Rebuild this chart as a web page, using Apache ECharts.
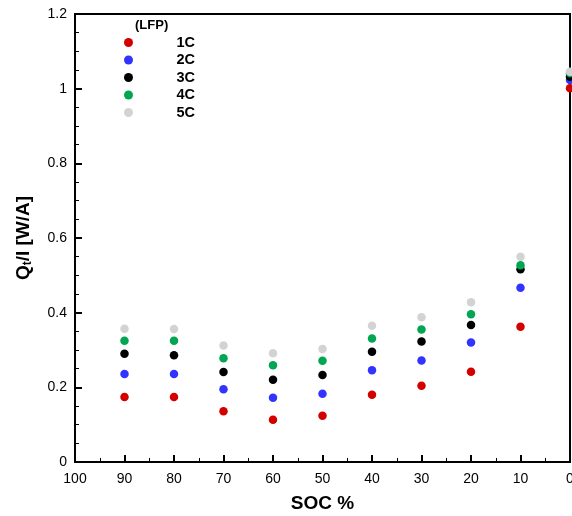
<!DOCTYPE html>
<html><head><meta charset="utf-8">
<script src="https://cdn.jsdelivr.net/npm/echarts@6/dist/echarts.min.js"></script>
<style>html,body{margin:0;padding:0;background:#fff}#c{width:572px;height:516px}</style>
</head><body><div id="c"></div>
<script>
const soc = [90, 80, 70, 60, 50, 40, 30, 20, 10, 0];
const s1C = [0.174, 0.174, 0.136, 0.113, 0.124, 0.180, 0.204, 0.242, 0.362, 1.001];
const s2C = [0.236, 0.236, 0.195, 0.172, 0.183, 0.246, 0.272, 0.320, 0.467, 1.023];
const s3C = [0.290, 0.286, 0.241, 0.220, 0.233, 0.295, 0.323, 0.367, 0.516, 1.032];
const s4C = [0.325, 0.325, 0.278, 0.259, 0.271, 0.331, 0.355, 0.396, 0.527, 1.041];
const s5C = [0.357, 0.356, 0.312, 0.291, 0.303, 0.365, 0.388, 0.428, 0.550, 1.045];
const names = ['1C', '2C', '3C', '4C', '5C'];
const colors = ['#d40000', '#3333ff', '#000000', '#00a651', '#d3d3d3'];
const allData = [s1C, s2C, s3C, s4C, s5C];

const font = 'Liberation Sans, Arial, Helvetica, sans-serif';
const chart = echarts.init(document.getElementById('c'));
chart.setOption({
  animation: false,
  textStyle: { fontFamily: font },
  grid: { left: 75, right: 2, top: 14, bottom: 54, show: true, borderColor: '#000', borderWidth: 2, containLabel: false, outerBoundsMode: 'none' },
  legend: {
    orient: 'vertical', left: 119, top: 30, itemWidth: 86, itemHeight: 9, itemGap: 2.5,
    icon: 'circle', data: names,
    textStyle: { fontFamily: font, fontWeight: 'bold', fontSize: 14.5, color: '#000' }
  },
  graphic: [{ type: 'text', left: 135, top: 19, style: { text: '(LFP)', font: 'bold 13px ' + font, fill: '#000' } }],
  xAxis: {
    type: 'value', inverse: true, min: 0, max: 100, interval: 10,
    name: 'SOC %', nameLocation: 'middle', nameGap: 32,
    nameTextStyle: { fontFamily: font, fontWeight: 'bold', fontSize: 19, color: '#000' },
    axisLine: { show: true, onZero: false, lineStyle: { color: '#000', width: 2 } },
    axisTick: { show: true, inside: true, length: 7, lineStyle: { color: '#000', width: 2 } },
    minorTick: { show: true, splitNumber: 2, length: 4, lineStyle: { color: '#000', width: 1 } },
    axisLabel: { fontFamily: font, fontSize: 14, color: '#000', margin: 10 },
    splitLine: { show: false }
  },
  yAxis: {
    type: 'value', min: 0, max: 1.2, interval: 0.2, position: 'left',
    name: '{b|Q}{s|t}{b|/I [W/A]}', nameLocation: 'middle', nameGap: 41,
    nameTextStyle: {
      rich: {
        b: { fontFamily: font, fontWeight: 'bold', fontSize: 19, color: '#000' },
        s: { fontFamily: font, fontWeight: 'bold', fontSize: 12, color: '#000', padding: [8, 0, 0, 0] }
      }
    },
    axisLine: { show: true, onZero: false, lineStyle: { color: '#000', width: 2 } },
    axisTick: { show: true, inside: true, length: 7, lineStyle: { color: '#000', width: 2 } },
    minorTick: { show: true, splitNumber: 4, length: 4, lineStyle: { color: '#000', width: 1 } },
    axisLabel: { fontFamily: font, fontSize: 14, color: '#000', margin: 8 },
    splitLine: { show: false }
  },
  series: names.map((n, i) => ({
    name: n, type: 'scatter', symbol: 'circle', symbolSize: 8.5,
    itemStyle: { color: colors[i], opacity: 1 },
    data: soc.map((x, j) => [x, allData[i][j]])
  }))
});
</script></body></html>
